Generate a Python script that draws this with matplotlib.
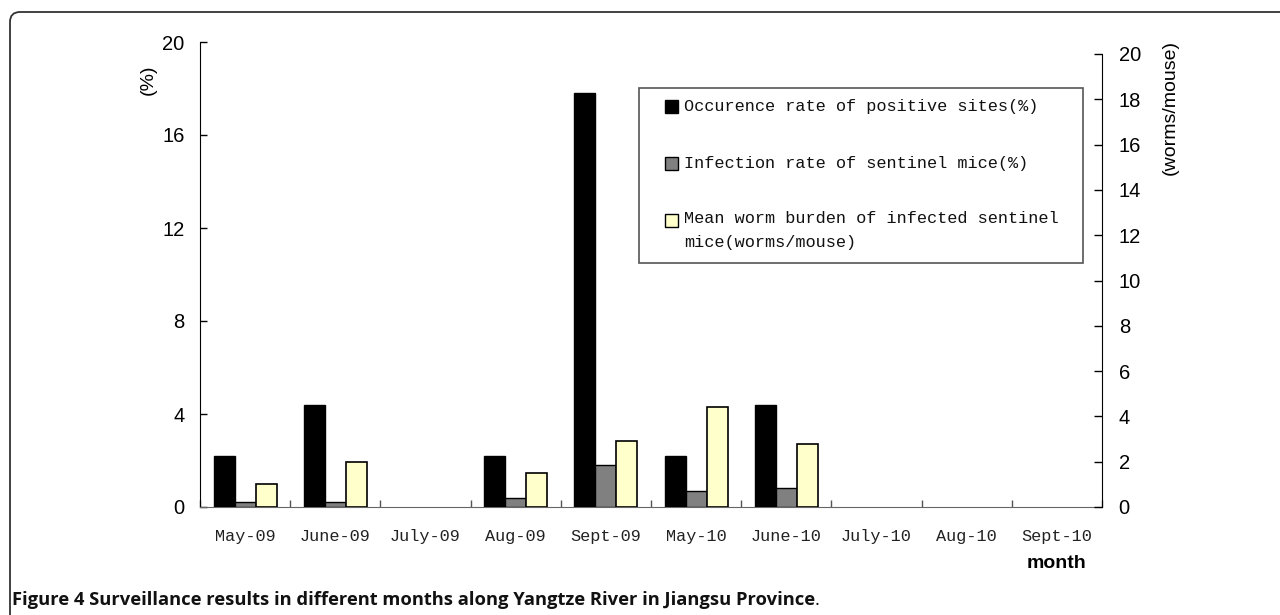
import matplotlib
matplotlib.use("Agg")
import matplotlib.pyplot as plt
import numpy as np
from matplotlib.patches import FancyBboxPatch, Rectangle
from matplotlib.transforms import IdentityTransform

# ---- data ----
months = ['May-09', 'June-09', 'July-09', 'Aug-09', 'Sept-09',
          'May-10', 'June-10', 'July-10', 'Aug-10', 'Sept-10']
occurrence = [2.2, 4.4, 0, 2.2, 17.8, 2.2, 4.4, 0, 0, 0]
infection = [0.2, 0.2, 0, 0.4, 1.8, 0.67, 0.8, 0, 0, 0]
burden = [1.0, 2.0, 0, 1.5, 2.9, 4.4, 2.8, 0, 0, 0]
series_names = ['Occurence rate of positive sites(%)',
                'Infection rate of sentinel mice(%)',
                'Mean worm burden of infected sentinel\nmice(worms/mouse)']
left_ticks = [0, 4, 8, 12, 16, 20]
right_ticks = [0, 2, 4, 6, 8, 10, 12, 14, 16, 18, 20]
caption_bold = 'Figure 4 Surveillance results in different months along Yangtze River in Jiangsu Province'

colors = ['#000000', '#808080', '#FFFFCC']

W, H = 1280, 615
fig = plt.figure(figsize=(W / 100, H / 100), dpi=100)

def fx(px):
    return px / W

def fy(py):
    return 1 - py / H

mono = 'Liberation Mono'
sans = 'Liberation Sans'

x0, x1 = 200, 1102
y0 = 507
ax1 = fig.add_axes([fx(x0), fy(y0), fx(x1 - x0), fy(42) - fy(y0)])
ax2 = fig.add_axes([fx(x0), fy(y0), fx(x1 - x0), fy(54) - fy(y0)])
ax2.patch.set_visible(False)

x = np.arange(len(months))
bw = 0.233

def lw_for(vals, w):
    return [w if v > 0 else 0 for v in vals]

ax1.bar(x - bw, occurrence, bw, color=colors[0], edgecolor='black',
        linewidth=lw_for(occurrence, 1.0), zorder=3)
ax1.bar(x, infection, bw, color=colors[1], edgecolor='black',
        linewidth=lw_for(infection, 1.0), zorder=3)
ax2.bar(x + bw, burden, bw, color=colors[2], edgecolor='black',
        linewidth=lw_for(burden, 1.2), zorder=3)

for ax in (ax1, ax2):
    ax.set_xlim(-0.5, len(months) - 0.5)
    ax.set_ylim(0, 20)

# left axis
ax1.spines['top'].set_visible(False)
ax1.spines['right'].set_visible(False)
ax1.spines['left'].set_color('black')
ax1.spines['bottom'].set_color('#666666')
ax1.set_yticks(left_ticks)
ax1.tick_params(axis='y', direction='in', length=5, width=1, pad=11,
                labelsize=14.5, colors='black')
for t in ax1.get_yticklabels():
    t.set_fontfamily(sans)

# category boundaries as major ticks, labels at centers
ax1.set_xticks(np.arange(len(months) + 1) - 0.5)
ax1.set_xticklabels([])
ax1.tick_params(axis='x', which='major', direction='in', length=5, width=1, color='#555555')
ax1.set_xticks(x, minor=True)
ax1.set_xticklabels(months, minor=True, fontfamily=mono, fontsize=12.2, color='#222222')
ax1.tick_params(axis='x', which='minor', length=0, pad=16)

# right axis
ax2.spines['top'].set_visible(False)
ax2.spines['left'].set_visible(False)
ax2.spines['bottom'].set_visible(False)
ax2.spines['right'].set_color('black')
ax2.yaxis.tick_right()
ax2.set_yticks(right_ticks)
ax2.tick_params(axis='y', direction='in', length=6, width=1, pad=12,
                labelsize=14.5, colors='black')
for t in ax2.get_yticklabels():
    t.set_fontfamily(sans)
ax2.set_xticks([])

# axis titles
fig.text(fx(148), fy(80), '(%)', rotation=90, ha='center', va='center',
         fontfamily=sans, fontsize=14)
fig.text(fx(1170), fy(108), '(worms/mouse)', rotation=90, ha='center', va='center',
         fontfamily=sans, fontsize=14)
fig.text(fx(1057), fy(564), 'month', ha='center', va='center',
         fontfamily=sans, fontsize=14, fontweight='bold')

# legend (manual box)
fig.add_artist(Rectangle((fx(639), fy(263)), fx(1083 - 639), fy(88) - fy(263),
                         transform=fig.transFigure, fill=False, edgecolor='#555555', lw=1.2))
leg_y = [107, 164, 221]
for c, name, ly in zip(colors, series_names, leg_y):
    fig.add_artist(Rectangle((fx(665), fy(ly + 6)), fx(13), fy(ly - 7) - fy(ly + 6),
                             transform=fig.transFigure, facecolor=c, edgecolor='black', lw=1.0))
    if '\n' in name:
        fig.text(fx(684), fy(ly - 10), name, ha='left', va='top',
                 fontfamily=mono, fontsize=12.2, color='#111111', linespacing=1.75)
    else:
        fig.text(fx(684), fy(ly), name, ha='left', va='center',
                 fontfamily=mono, fontsize=12.2, color='#111111')

# figure border (rounded)
border = FancyBboxPatch((10, -30), 1400, H - 12 + 30,
                        boxstyle='round,pad=0,rounding_size=10',
                        transform=IdentityTransform(), fill=False,
                        edgecolor='#333333', lw=1.3)
fig.add_artist(border)

# caption
cap = fig.text(fx(12), fy(600), caption_bold, ha='left', va='center',
               fontfamily='Open Sans', fontweight='bold', fontsize=13.2, color='#111111')
fig.canvas.draw()
bb = cap.get_window_extent(renderer=fig.canvas.get_renderer())
fig.text(bb.x1 / W, fy(600), '.', ha='left', va='center',
         fontfamily='Open Sans', fontsize=13.2, color='#111111')

fig.savefig('out.png', dpi=100)
